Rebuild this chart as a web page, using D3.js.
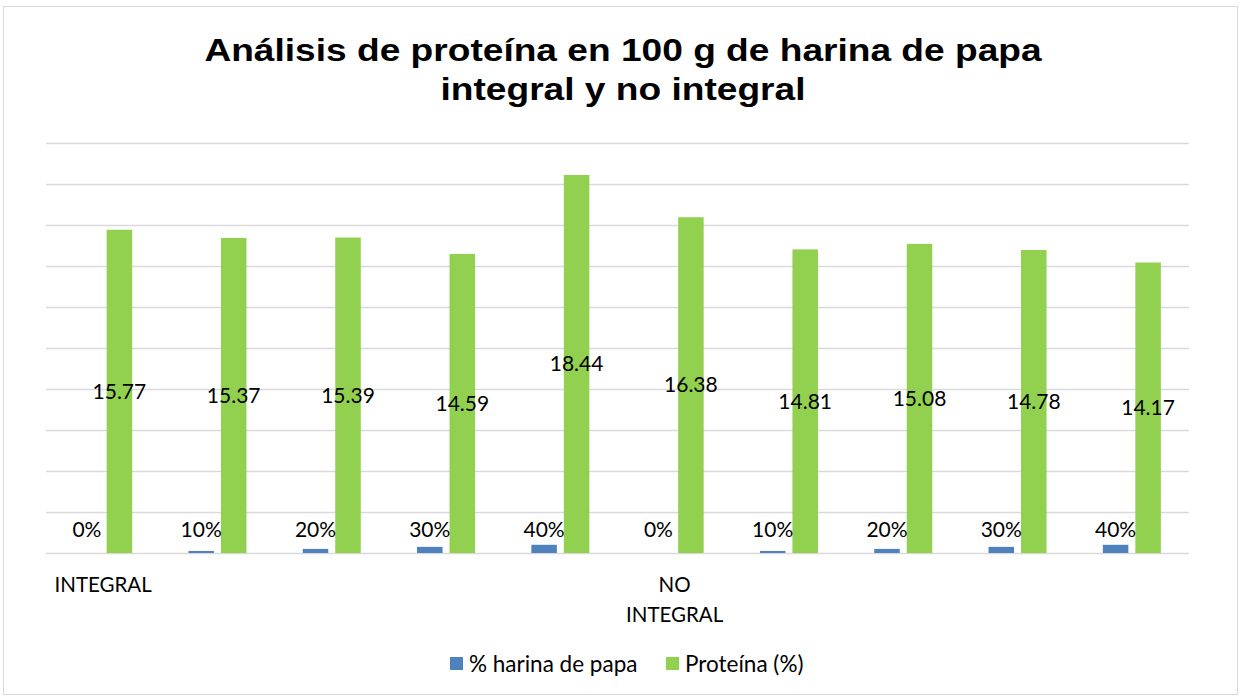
<!DOCTYPE html>
<html>
<head>
<meta charset="utf-8">
<script src="https://cdn.jsdelivr.net/npm/d3@7"></script>
<style>
  body { margin: 0; background: #fff; }
  svg text { font-family: Lato, "Open Sans", sans-serif; fill: #000; }
  svg text.titulo, svg text.titulo tspan { font-family: "Liberation Sans", Arial, sans-serif; font-weight: bold; }
</style>
</head>
<body>
<script>
// datos
var categorias = ["0%", "10%", "20%", "30%", "40%", "0%", "10%", "20%", "30%", "40%"];
var grupos = ["INTEGRAL", "", "", "", "", "NO INTEGRAL", "", "", "", ""];
var harina = [0, 0.1, 0.2, 0.3, 0.4, 0, 0.1, 0.2, 0.3, 0.4];
var proteina = [15.77, 15.37, 15.39, 14.59, 18.44, 16.38, 14.81, 15.08, 14.78, 14.17];
var series = ["% harina de papa", "Proteína (%)"];
var colores = ["#4f81bd", "#92d050"];
var yTicks = [0, 2, 4, 6, 8, 10, 12, 14, 16, 18, 20];

var width = 1240, height = 698;
var margin = {top: 143, right: 51, bottom: 145, left: 46};

var svg = d3.select("body").append("svg")
    .attr("width", width)
    .attr("height", height);

// marco del grafico
svg.append("rect")
    .attr("x", 3.5).attr("y", 6.5)
    .attr("width", 1234).attr("height", 688)
    .attr("fill", "#fff")
    .attr("stroke", "#d9d9d9")
    .attr("stroke-width", 1);

// titulo (el original sale un poco estirado a lo ancho)
var titulo = svg.append("g")
    .attr("transform", "translate(623,0) scale(1.16,1)")
    .append("text")
    .attr("class", "titulo")
    .attr("text-anchor", "middle")
    .style("font-size", "32px");
titulo.append("tspan").attr("x", 0).attr("y", 61).text("Análisis de proteína en 100 g de harina de papa");
titulo.append("tspan").attr("x", 0).attr("y", 100).text("integral y no integral");

var x = d3.scaleBand()
    .domain(d3.range(categorias.length))
    .range([margin.left, width - margin.right]);

var xs = d3.scaleBand()
    .domain([0, 1])
    .range([0, x.bandwidth()])
    .paddingInner(0.215)
    .paddingOuter(0.866);

var y = d3.scaleLinear()
    .domain([0, 20])
    .range([height - margin.bottom, margin.top]);

// lineas de division
svg.append("g")
    .selectAll("line")
    .data(yTicks)
    .join("line")
    .attr("x1", margin.left)
    .attr("x2", width - margin.right)
    .attr("y1", function(d) { return Math.round(y(d)) + 0.5; })
    .attr("y2", function(d) { return Math.round(y(d)) + 0.5; })
    .attr("stroke", "#d9d9d9")
    .attr("stroke-width", 1.3);

// barras
var valores = [harina, proteina];
for (var s = 0; s < 2; s++) {
    svg.append("g")
        .selectAll("rect")
        .data(valores[s])
        .join("rect")
        .attr("x", function(d, i) { return x(i) + xs(s); })
        .attr("y", function(d) { return y(d); })
        .attr("width", xs.bandwidth())
        .attr("height", function(d) { return y(0) - y(d); })
        .attr("fill", colores[s]);
}

// etiquetas de datos
svg.append("g")
    .selectAll("text")
    .data(proteina)
    .join("text")
    .attr("x", function(d, i) { return x(i) + xs(1) + xs.bandwidth() / 2; })
    .attr("y", function(d) { return (y(d) + y(0)) / 2; })
    .attr("dy", "0.35em")
    .attr("text-anchor", "middle")
    .style("font-size", "21px")
    .text(function(d) { return d.toFixed(2); });

svg.append("g")
    .selectAll("text")
    .data(harina)
    .join("text")
    .attr("x", function(d, i) { return x(i) + xs(0) + xs.bandwidth() / 2; })
    .attr("y", y(0) - 23)
    .attr("dy", "0.35em")
    .attr("text-anchor", "middle")
    .style("font-size", "21px")
    .text(function(d, i) { return categorias[i]; });

// eje de categorias
var eje = svg.append("g")
    .attr("transform", "translate(0," + y(0) + ")")
    .call(d3.axisBottom(x).tickSize(0).tickFormat(function(i) { return grupos[i]; }));
eje.select(".domain").remove();
eje.selectAll("text")
    .style("font-size", "20.5px")
    .style("font-family", "Lato, 'Open Sans', sans-serif")
    .attr("fill", "#000")
    .attr("y", 0)
    .attr("dy", 0)
    .each(function(i) {
        var t = d3.select(this);
        var palabras = grupos[i].split(" ");
        t.text(null);
        if (palabras.length > 1) {
            t.append("tspan").attr("x", 0).attr("y", 39).text(palabras[0]);
            t.append("tspan").attr("x", 0).attr("y", 69).text(palabras.slice(1).join(" "));
        } else {
            t.append("tspan").attr("x", 0).attr("y", 39).text(grupos[i]);
        }
    });

// leyenda
var leyenda = svg.append("g").attr("transform", "translate(450,657)");
var offs = [0, 216];
series.forEach(function(nombre, k) {
    var g = leyenda.append("g").attr("transform", "translate(" + offs[k] + ",0)");
    g.append("rect")
        .attr("width", 13).attr("height", 13)
        .attr("fill", colores[k]);
    g.append("text")
        .attr("x", 19).attr("y", 7)
        .attr("dy", "0.35em")
        .style("font-size", "22.5px")
        .text(nombre);
});
</script>
</body>
</html>
